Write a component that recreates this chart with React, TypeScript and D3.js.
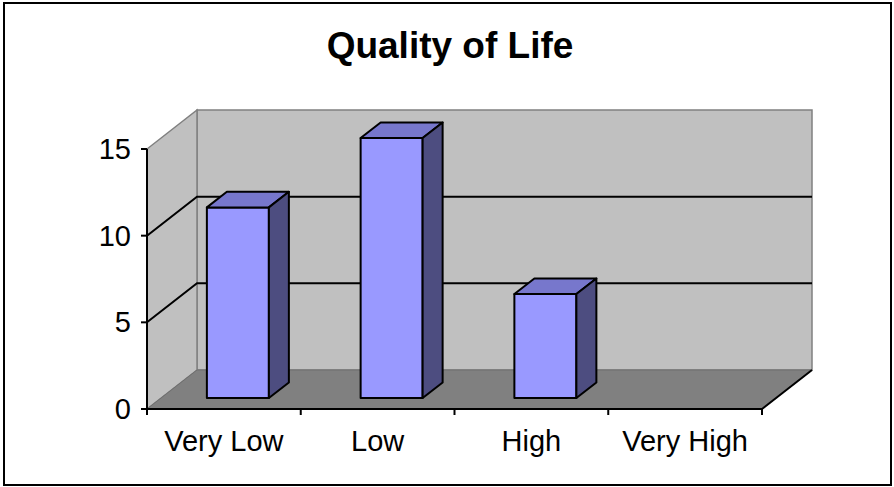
import React from 'react'
import * as d3 from 'd3'

const categories = ['Very Low', 'Low', 'High', 'Very High']
const values = [11, 15, 6, 0]
const yTicks = [0, 5, 10, 15]

const W = 894
const H = 487
const depthX = 50
const depthY = 39

export default function App () {
  const x = d3.scaleBand<string>().domain(categories).range([147, 762])
  const y = d3.scaleLinear().domain([0, 15]).range([409, 149])

  // project a point: front-plane x, value, depth fraction (0 front, 1 back)
  const p = (px: number, v: number, d: number): [number, number] => [px + d * depthX, y(v) - d * depthY]
  const poly = (pts: [number, number][]) => d3.line()(pts) + 'Z'

  const x0 = x.range()[0]
  const x1 = x.range()[1]
  const vMax = 15

  const backWall = poly([p(x0, 0, 1), p(x1, 0, 1), p(x1, vMax, 1), p(x0, vMax, 1)])
  const sideWall = poly([p(x0, 0, 0), p(x0, 0, 1), p(x0, vMax, 1), p(x0, vMax, 0)])
  const floor = poly([p(x0, 0, 0), p(x1, 0, 0), p(x1, 0, 1), p(x0, 0, 1)])

  const barW = 62
  const d0 = 0.28
  const d1 = 0.68

  const bars = categories.map((c, i) => {
    const v = values[i]
    if (!v) return null
    const cx = (x(c) as number) + x.bandwidth() / 2
    const l = cx - barW / 2
    const r = cx + barW / 2
    const front = poly([p(l, 0, d0), p(r, 0, d0), p(r, v, d0), p(l, v, d0)])
    const top = poly([p(l, v, d0), p(r, v, d0), p(r, v, d1), p(l, v, d1)])
    const side = poly([p(r, 0, d0), p(r, 0, d1), p(r, v, d1), p(r, v, d0)])
    return (
      <g key={c} stroke='#000' strokeWidth={2} strokeLinejoin='round'>
        <path d={front} fill='#9999FF' />
        <path d={top} fill='#7777CC' />
        <path d={side} fill='#4D4D80' />
      </g>
    )
  })

  const font = 'Arial, "Liberation Sans", sans-serif'
  const boundaries = [...categories.map(c => x(c) as number), x1]

  return (
    <svg width={W} height={H} style={{ position: 'absolute', left: 0, top: 0, background: '#fff' }}>
      <rect x={4} y={3} width={887} height={482} fill='#fff' stroke='#000' strokeWidth={2} />
      <text x={450} y={58} textAnchor='middle' fontFamily={font} fontWeight='bold' fontSize={37}>Quality of Life</text>

      <path d={backWall} fill='#C0C0C0' stroke='#808080' strokeWidth={1.5} />
      <path d={sideWall} fill='#C0C0C0' stroke='#808080' strokeWidth={1.5} />
      <path d={floor} fill='#808080' stroke='#6e6e6e' strokeWidth={1} />

      {yTicks.filter(t => t > 0 && t < vMax).map(t => {
        const a = p(x0, t, 0)
        const b = p(x0, t, 1)
        const c = p(x1, t, 1)
        return <path key={t} d={d3.line()([a, b, c]) as string} fill='none' stroke='#000' strokeWidth={2} />
      })}

      {bars}

      {/* floor right edge and front edge */}
      <path d={d3.line()([p(x1, 0, 0), p(x1, 0, 1)]) as string} stroke='#000' strokeWidth={2} />
      <line x1={x0} x2={x1} y1={y(0)} y2={y(0)} stroke='#000' strokeWidth={2} />
      {boundaries.map((b, i) => (
        <line key={i} x1={b} x2={b} y1={y(0)} y2={y(0) + 6} stroke='#000' strokeWidth={2} />
      ))}
      <line x1={x0} x2={x0} y1={y(vMax)} y2={y(0)} stroke='#000' strokeWidth={2} />
      {yTicks.map(t => (
        <g key={t}>
          <line x1={x0 - 6} x2={x0} y1={y(t)} y2={y(t)} stroke='#000' strokeWidth={2} />
          <text x={131} y={y(t) + 10} textAnchor='end' fontFamily={font} fontSize={29}>{t}</text>
        </g>
      ))}
      {categories.map(c => (
        <text key={c} x={(x(c) as number) + x.bandwidth() / 2} y={451} textAnchor='middle' fontFamily={font} fontSize={29}>{c}</text>
      ))}
    </svg>
  )
}
